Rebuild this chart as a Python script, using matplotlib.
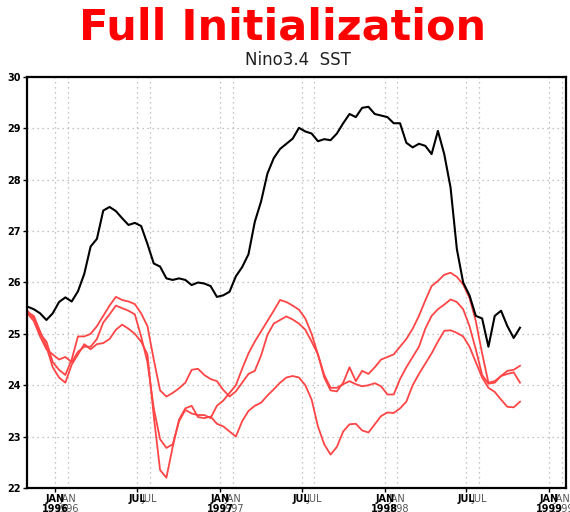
import numpy as np
import matplotlib
matplotlib.use("Agg")
import matplotlib.pyplot as plt
import matplotlib.dates as mdates

# biweekly Nino3.4 SST (deg C), Nov 1995 - Oct 1998
start = np.datetime64("1995-11-01")
step_days = 14

observed = [25.53, 25.48, 25.40, 25.27, 25.40, 25.62, 25.71, 25.63, 25.83, 26.17,
            26.70, 26.85, 27.40, 27.47, 27.39, 27.25, 27.12, 27.16, 27.10, 26.75,
            26.37, 26.31, 26.08, 26.05, 26.08, 26.05, 25.95, 26.00, 25.98, 25.93,
            25.72, 25.75, 25.82, 26.12, 26.30, 26.55, 27.18, 27.58, 28.12, 28.42,
            28.60, 28.70, 28.80, 29.01, 28.94, 28.90, 28.75, 28.79, 28.77, 28.90,
            29.10, 29.28, 29.22, 29.40, 29.42, 29.28, 29.25, 29.22, 29.10, 29.10,
            28.72, 28.63, 28.70, 28.66, 28.50, 28.95, 28.50, 27.85, 26.65, 26.00,
            25.75, 25.35, 25.30, 24.75, 25.35, 25.45, 25.15, 24.92, 25.12]

forecast_a = [25.45, 25.30, 25.00, 24.85, 24.45, 24.30, 24.20, 24.50, 24.95, 24.95,
              25.00, 25.15, 25.35, 25.55, 25.72, 25.66, 25.63, 25.58, 25.40, 25.15,
              24.50, 23.90, 23.78, 23.85, 23.94, 24.05, 24.30, 24.32, 24.20, 24.12,
              24.08, 23.91, 23.78, 23.88, 24.05, 24.22, 24.28, 24.58, 24.98, 25.20,
              25.27, 25.34, 25.28, 25.20, 25.08, 24.85, 24.60, 24.20, 23.95, 23.95,
              24.02, 24.08, 24.02, 23.98, 24.00, 24.04, 23.98, 23.82, 23.82, 24.12,
              24.35, 24.55, 24.75, 25.10, 25.35, 25.48, 25.57, 25.67, 25.62, 25.48,
              25.15, 24.70, 24.20, 24.03, 24.05, 24.18, 24.22, 24.25, 24.05]

forecast_b = [25.40, 25.25, 24.95, 24.70, 24.60, 24.50, 24.55, 24.45, 24.65, 24.75,
              24.75, 24.90, 25.22, 25.38, 25.55, 25.50, 25.45, 25.38, 24.95, 24.45,
              23.55, 22.95, 22.78, 22.85, 23.30, 23.52, 23.45, 23.42, 23.42, 23.36,
              23.60, 23.70, 23.85, 24.00, 24.32, 24.62, 24.85, 25.05, 25.25, 25.45,
              25.66, 25.62, 25.55, 25.47, 25.30, 25.00, 24.60, 24.15, 23.90, 23.88,
              24.05, 24.35, 24.08, 24.28, 24.22, 24.35, 24.50, 24.55, 24.60, 24.75,
              24.90, 25.10, 25.35, 25.65, 25.93, 26.03, 26.15, 26.19, 26.11, 25.96,
              25.70, 25.25, 24.62, 24.05, 24.08, 24.18, 24.28, 24.30, 24.38]

forecast_c = [25.42, 25.35, 25.05, 24.75, 24.35, 24.15, 24.05, 24.40, 24.60, 24.80,
              24.70, 24.80, 24.82, 24.90, 25.08, 25.18, 25.10, 25.00, 24.85, 24.60,
              23.40, 22.35, 22.20, 22.80, 23.33, 23.55, 23.60, 23.38, 23.36, 23.39,
              23.25, 23.20, 23.10, 23.00, 23.30, 23.50, 23.60, 23.66, 23.80, 23.92,
              24.05, 24.15, 24.18, 24.15, 24.00, 23.72, 23.20, 22.85, 22.65, 22.80,
              23.10, 23.24, 23.25, 23.12, 23.08, 23.24, 23.40, 23.47, 23.46, 23.55,
              23.68, 24.00, 24.22, 24.42, 24.62, 24.85, 25.06, 25.07, 25.02, 24.95,
              24.75, 24.45, 24.15, 23.95, 23.87, 23.72, 23.58, 23.57, 23.68]

tick_dates = ["1996-01-01", "1996-07-01", "1997-01-01", "1997-07-01",
              "1998-01-01", "1998-07-01", "1999-01-01"]
tick_labels = ["JAN\n1996", "JUL", "JAN\n1997", "JUL",
               "JAN\n1998", "JUL", "JAN\n1999"]
y_ticks = [22, 23, 24, 25, 26, 27, 28, 29, 30]

# the forecast time axis sits about four weeks later than the observed one
shift_days = 28


def to_num(values):
    return mdates.date2num(np.asarray(values, dtype="datetime64[D]").astype(object))


dates = start + np.arange(len(observed)) * np.timedelta64(step_days, "D")
x = to_num(dates)
ticks = to_num(tick_dates)

fig = plt.figure(figsize=(5.7, 5.12), dpi=100)
ax = fig.add_axes([0.0474, 0.0469, 0.9456, 0.8027])

red = "#ff4545"
for series in (forecast_a, forecast_b, forecast_c):
    ax.plot(x, series, color=red, lw=1.3)
ax.plot(x, observed, color="black", lw=1.5)

ax.set_xlim(to_num(["1995-10-31", "1999-02-07"]))
ax.set_ylim(22, 30)
ax.set_yticks(y_ticks)
ax.set_yticklabels([str(v) for v in y_ticks], fontsize=7, fontweight="bold")

ax.set_xticks(ticks)
ax.set_xticklabels(tick_labels, fontsize=7, fontweight="bold", linespacing=0.95)
ax.set_xticks(ticks + shift_days, minor=True)
ax.tick_params(axis="x", which="minor", length=0)
ax.tick_params(axis="both", which="major", length=3, width=1, pad=1.5)

grid_style = dict(color="#b0b0b0", linestyle=(0, (1, 3)), linewidth=0.9)
ax.grid(True, which="major", **grid_style)
ax.grid(True, which="minor", axis="x", **grid_style)

sec = ax.secondary_xaxis("bottom", functions=(lambda v: v - shift_days,
                                               lambda v: v + shift_days))
sec.set_xticks(ticks)
sec.set_xticklabels(tick_labels, fontsize=7, color="#555555", linespacing=0.95)
sec.tick_params(length=0, pad=4.5)
sec.spines["bottom"].set_visible(False)

for spine in ax.spines.values():
    spine.set_linewidth(1.6)

fig.text(0.495, 0.947, "Full Initialization", color="red", fontsize=31,
         fontweight="bold", ha="center", va="center")
fig.text(0.522, 0.882, "Nino3.4  SST", color="#222222", fontsize=12,
         ha="center", va="center")

fig.savefig("out.png", dpi=100)
